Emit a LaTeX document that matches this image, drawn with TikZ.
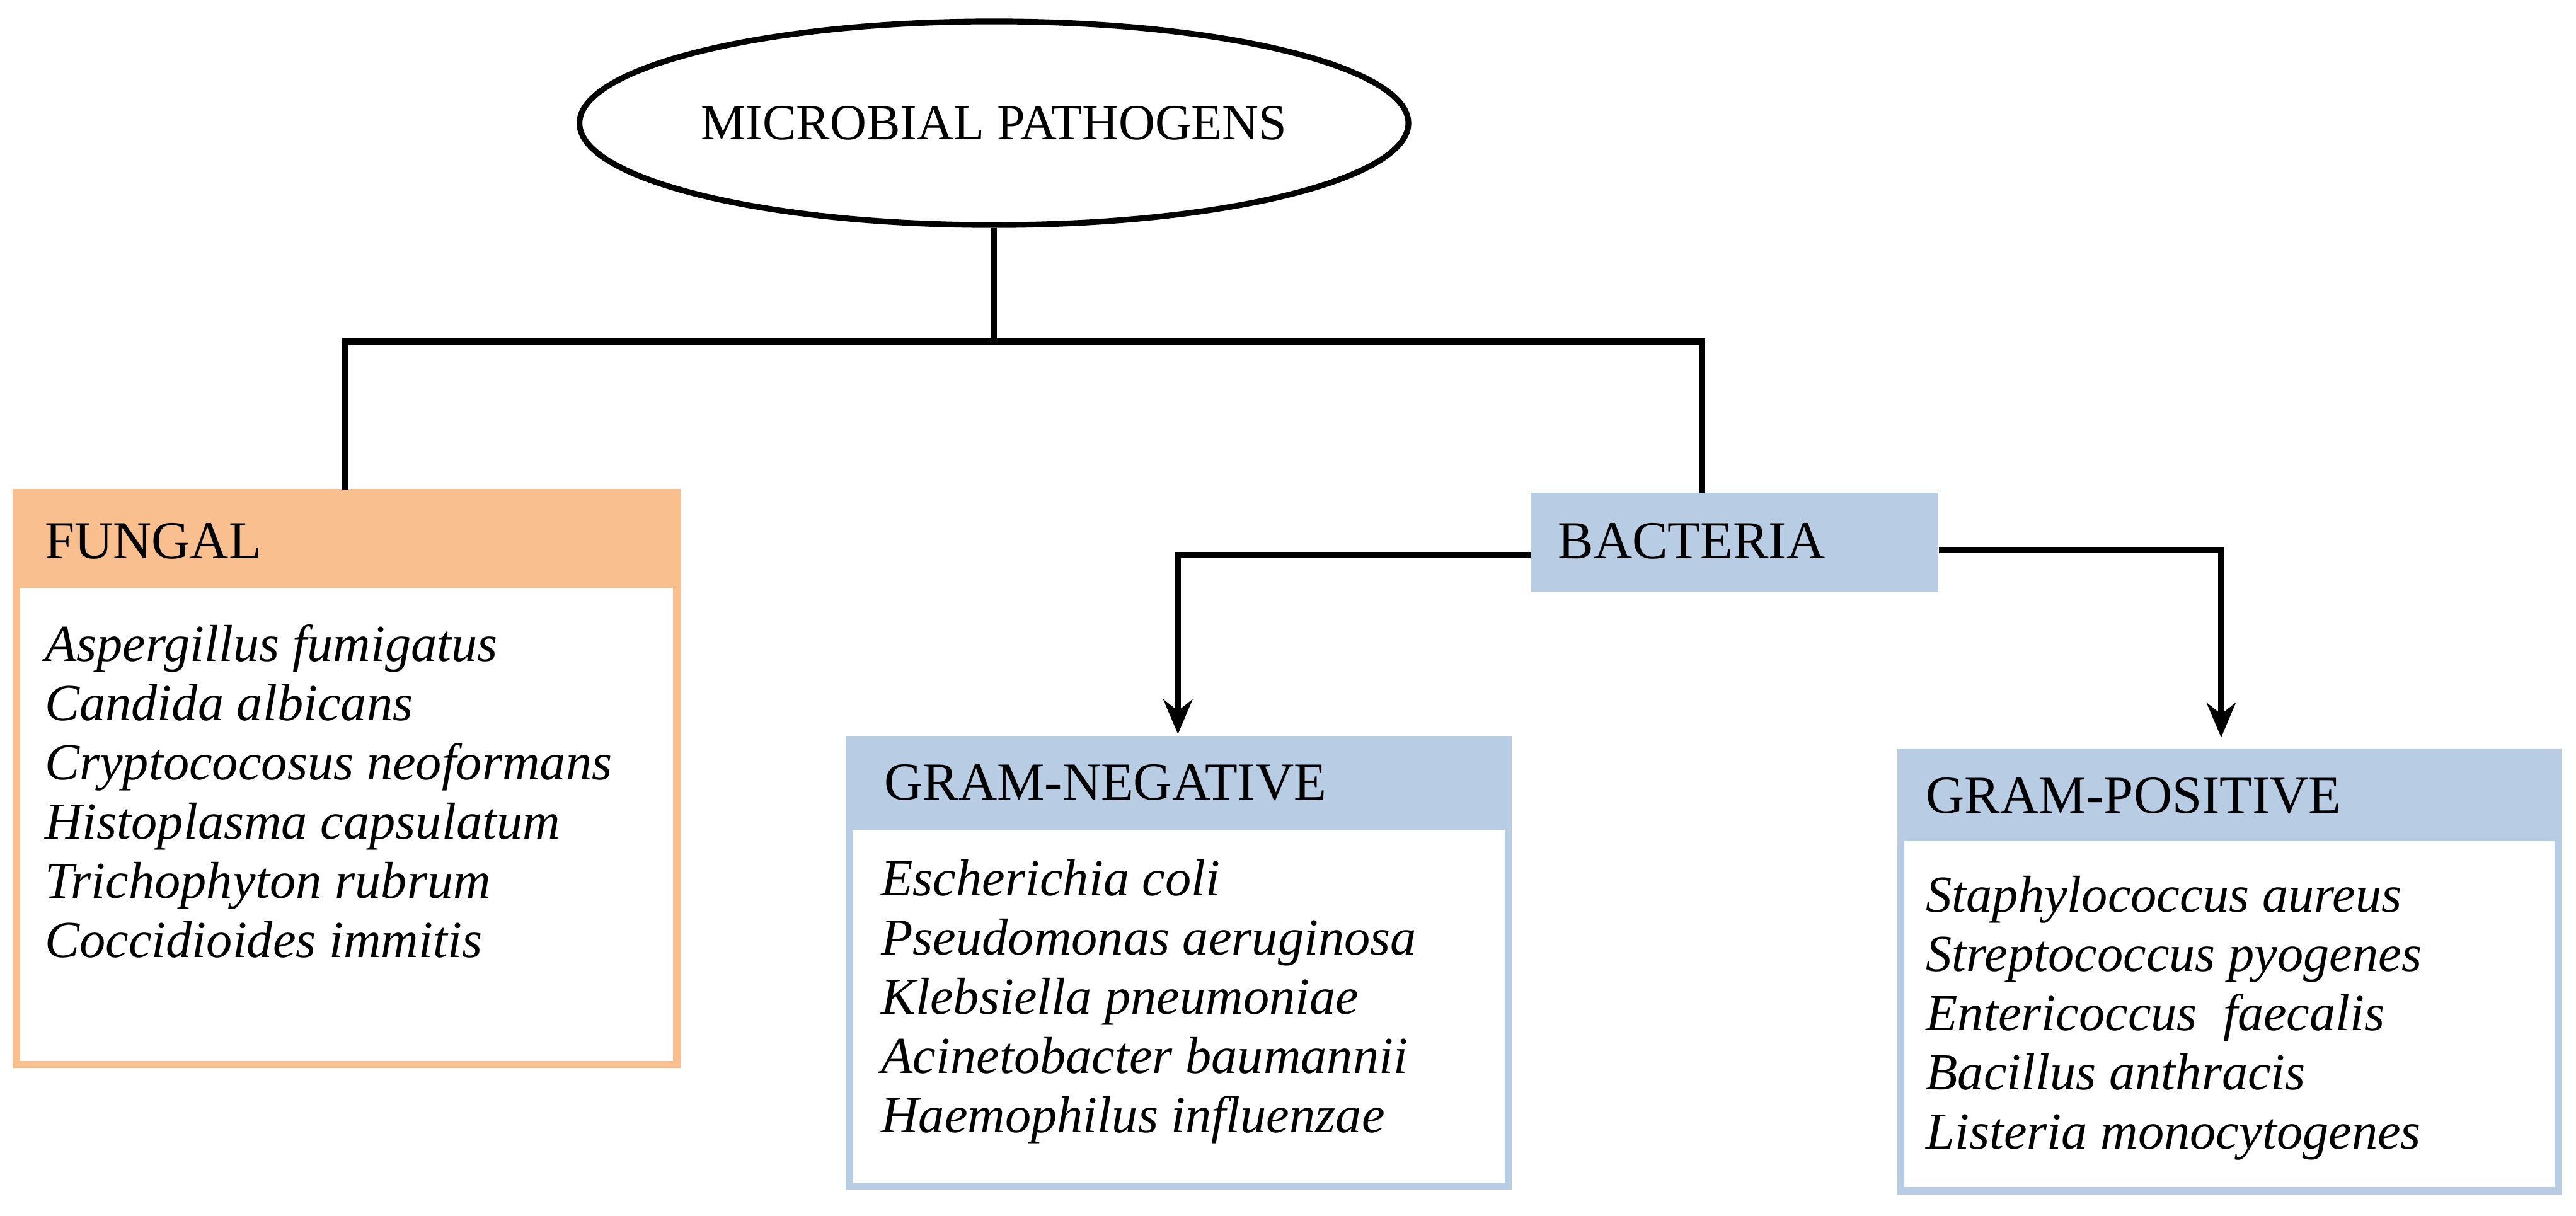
\documentclass[tikz,border=0pt]{standalone}
\usepackage{fontspec}
\setmainfont{Liberation Serif}
\usetikzlibrary{shapes.geometric,arrows.meta}
\definecolor{orfill}{HTML}{F9BF8F}
\definecolor{orline}{HTML}{F9BF8F}
\definecolor{blfill}{HTML}{B8CCE4}
\tikzset{x=0.02cm,y=-0.02cm,
 conn/.style={line width=2.2pt,black},
 arr/.style={conn,-{Stealth[length=12pt,width=10pt]}},
 head/.style={anchor=north west,inner sep=0pt,font=\fontsize{18.5}{22}\selectfont},
 body/.style={anchor=north west,align=left,inner sep=0pt,font=\fontsize{18}{20.5}\selectfont\itshape}}
\begin{document}
\begin{tikzpicture}
\useasboundingbox (0,0) rectangle (1568,740);
\node[ellipse,draw,line width=2pt,minimum width=9.92cm,minimum height=2.48cm,inner sep=0pt,font=\fontsize{17.5}{20}\selectfont] (root) at (605,75) {MICROBIAL PATHOGENS};
% fungal
\fill[orfill] (10,300) rectangle (412,358);
\draw[orline,line width=2.5pt] (10,300) rectangle (412,648);
\node[head] (fung) at (27,318) {FUNGAL};
\node[body] (fl) at (27,380) {Aspergillus fumigatus\\Candida albicans\\Cryptococosus neoformans\\Histoplasma capsulatum\\Trichophyton rubrum\\Coccidioides immitis};
\coordinate (ftop) at (210,298);
% bacteria
\node[fill=blfill,minimum width=4.96cm,minimum height=1.2cm,inner sep=0pt] (bact) at (1056,330) {};
\node[head] at (948,318) {BACTERIA};
\coordinate (btop) at (1036,300);
% gram neg
\fill[blfill] (517,450) rectangle (918,505);
\draw[blfill,line width=2.5pt] (517,450) rectangle (918,722);
\node[head] (gn) at (538,465) {GRAM-NEGATIVE};
\node[body] at (536,523) {Escherichia coli\\Pseudomonas aeruginosa\\Klebsiella pneumoniae\\Acinetobacter baumannii\\Haemophilus influenzae};
\coordinate (gntop) at (717,447);
% gram pos
\fill[blfill] (1157,458) rectangle (1557,512);
\draw[blfill,line width=2.5pt] (1157,458) rectangle (1557,725);
\node[head] (gp) at (1172,473) {GRAM-POSITIVE};
\node[body] at (1172,533) {Staphylococcus aureus\\Streptococcus pyogenes\\Entericoccus\ \ faecalis\\Bacillus anthracis\\Listeria monocytogenes};
\coordinate (gptop) at (1352,449);
% connectors
\coordinate (j) at (605,208);
\draw[conn] (root.south) -- (j);
\draw[conn] (ftop) |- (j) -| (btop);
\draw[arr] (bact.west |- 0,338) -| (gntop);
\draw[arr] (bact.east |- 0,335) -| (gptop);
\end{tikzpicture}
\end{document}
